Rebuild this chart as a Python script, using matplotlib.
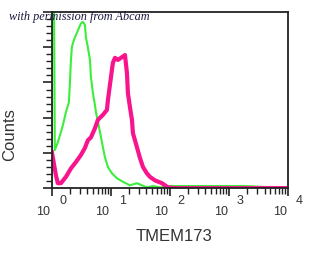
import numpy as np
import matplotlib.pyplot as plt
from matplotlib.ticker import MultipleLocator, LogLocator, NullFormatter
from matplotlib.transforms import offset_copy

# fluorescence intensity (channel) and counts
green_x = [1.0, 1.0, 1.08, 1.12, 1.26, 1.53, 1.73, 1.94, 2.02, 2.10, 2.18, 2.27, 2.45,
           2.76, 3.10, 3.35, 3.62, 3.77, 4.07, 4.41, 4.58, 4.95, 5.36, 5.57, 6.52,
           7.31, 7.91, 8.89, 10.4, 12.6, 16.0, 21.0, 27.6, 40.7, 51.5, 67.8, 100,
           179, 322, 579, 1866, 10000]
green_y = [0, 300, 300, 54, 65, 89, 108, 122, 150, 182, 200, 206, 214,
           224, 234, 236, 232, 214, 200, 182, 158, 135, 118, 108, 80,
           58, 44, 30, 21, 14, 9, 4, 7, 1, 3, 1, 3,
           3, 3, 3, 3, 0]

magenta_x = [1.0, 1.17, 1.26, 1.42, 1.73, 2.10, 2.55, 3.10, 3.62, 4.07, 4.58, 5.36,
             6.02, 7.31, 8.55, 8.89, 10.4, 10.8, 11.7, 13.1, 15.4, 17.3, 18.7, 19.4,
             21.0, 22.7, 23.6, 27.6, 31.0, 34.9, 40.7, 45.8, 55.7, 73.1, 92.5, 122,
             10000]
magenta_y = [51, 18, 7, 7, 16, 28, 37, 47, 57, 68, 72, 85,
             97, 104, 111, 125, 168, 178, 185, 182, 186, 189, 163, 135,
             115, 97, 78, 58, 43, 30, 21, 16, 11, 7, 1, 0,
             0]

decades = [1, 10, 100, 1000, 10000]
exponents = ["0", "1", "2", "3", "4"]

plt.rcParams['font.family'] = ['Liberation Sans', 'DejaVu Sans']

fig = plt.figure(figsize=(3.09, 2.57), dpi=100)
ax = fig.add_axes([0.168, 0.268, 0.764, 0.685])

ax.plot(green_x, green_y, color='#3cee3c', linewidth=1.5)
ax.plot(magenta_x, magenta_y, color='#f8148c', linewidth=3.0)

ax.set_xscale('log')
ax.set_xlim(1, 10000)
ax.set_ylim(0, 250)

ax.xaxis.set_major_locator(LogLocator(base=10))
ax.xaxis.set_minor_locator(LogLocator(base=10, subs=np.arange(2, 10)))
ax.xaxis.set_minor_formatter(NullFormatter())
ax.set_xticks(decades)
ax.set_xticklabels([""] * len(decades))
ax.yaxis.set_major_locator(MultipleLocator(50))
ax.yaxis.set_minor_locator(MultipleLocator(10))
ax.set_yticklabels([])

ax.tick_params(axis='y', which='major', length=6.5, width=1.2, direction='out', color='#222222')
ax.tick_params(axis='y', which='minor', length=4.5, width=1.0, direction='out', color='#222222')
ax.tick_params(axis='x', which='major', length=6, width=1.2, direction='out', color='#222222')
ax.tick_params(axis='x', which='minor', length=4, width=1.0, direction='out', color='#222222')
for s in ax.spines.values():
    s.set_linewidth(1.3)
    s.set_color('#222222')

# tick labels drawn as "10" with a raised exponent to the right of the tick
for d, e in zip(decades, exponents):
    t1 = offset_copy(ax.get_xaxis_transform(), fig=fig, x=-1, y=-17, units='points')
    ax.text(d, 0, "10", transform=t1, ha='right', va='center', fontsize=9,
            color='#333333', clip_on=False)
    t2 = offset_copy(ax.get_xaxis_transform(), fig=fig, x=5.5, y=-9.5, units='points')
    ax.text(d, 0, e, transform=t2, ha='left', va='center', fontsize=9,
            color='#333333', clip_on=False)

fig.text(0.563, 0.078, "TMEM173", ha='center', va='center', fontsize=12, color='#333333')
fig.text(0.032, 0.478, "Counts", ha='center', va='center', fontsize=12,
         rotation=90, color='#333333')
fig.text(0.03, 0.935, "with permission from Abcam", ha='left', va='center',
         fontsize=8.8, style='italic', family='Liberation Serif', color='#1a1a40',
         zorder=10)

fig.savefig("out.png", dpi=100)
